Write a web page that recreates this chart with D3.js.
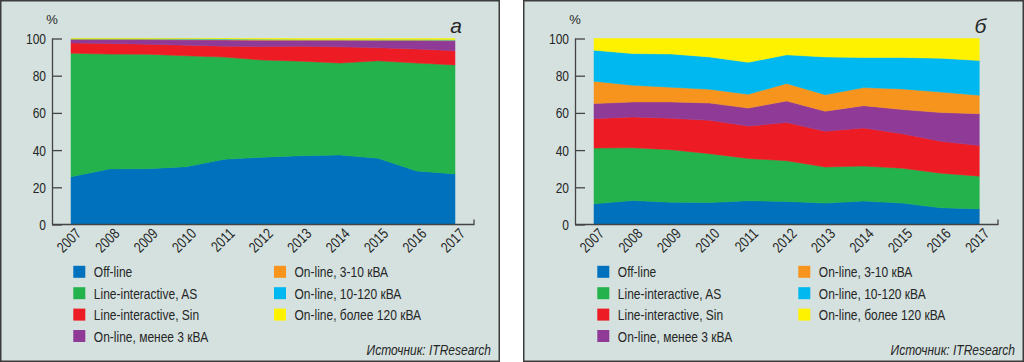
<!DOCTYPE html>
<html>
<head>
<meta charset="utf-8">
<script src="https://cdn.jsdelivr.net/npm/d3@7"></script>
<style>
  body { margin: 0; background: #fff; }
  svg text { font-family: "Liberation Sans", Arial, sans-serif; fill: #262626; }
</style>
</head>
<body>
<svg id="chart" width="1024" height="362"></svg>
<script>
// years on the x axis
const years = [2007, 2008, 2009, 2010, 2011, 2012, 2013, 2014, 2015, 2016, 2017];
const yTicks = [0, 20, 40, 60, 80, 100];

const seriesNames = [
  'Off-line', 'Line-interactive, AS', 'Line-interactive, Sin', 'On-line, менее 3 кВА',
  'On-line, 3-10 кВА', 'On-line, 10-120 кВА', 'On-line, более 120 кВА'
];
const seriesColors = ['#0071bc', '#23b24b', '#ed1c24', '#8e3a96', '#f7941e', '#00b8f0', '#fff200'];

// panel "а" shares, %
const aOffline = [25.7, 29.9, 30.0, 31.1, 35.1, 36.2, 37.0, 37.4, 35.6, 28.8, 27.2];
const aLineAS  = [66.4, 61.7, 61.5, 59.6, 54.9, 52.2, 50.8, 49.4, 52.4, 58.0, 58.6];
const aLineSin = [5.5, 5.7, 5.4, 5.7, 5.9, 7.3, 8.0, 8.7, 7.0, 7.5, 7.6];
const aOn3     = [1.8, 2.1, 2.5, 2.9, 3.3, 3.4, 3.2, 3.5, 3.9, 4.6, 5.4];
const aOn3_10  = [0.3, 0.3, 0.3, 0.3, 0.3, 0.3, 0.3, 0.3, 0.3, 0.3, 0.3];
const aOn10_120 = [0.2, 0.2, 0.2, 0.2, 0.2, 0.2, 0.2, 0.2, 0.2, 0.2, 0.2];
const aOn120   = [0.1, 0.1, 0.1, 0.2, 0.3, 0.4, 0.5, 0.5, 0.6, 0.6, 0.7];

// panel "б" shares, %
const bOffline = [11.1, 12.9, 12.0, 11.8, 12.8, 12.4, 11.5, 12.6, 11.5, 9.0, 8.4];
const bLineAS  = [30.0, 28.4, 28.2, 26.3, 22.7, 21.9, 19.4, 18.8, 18.8, 18.6, 17.6];
const bLineSin = [15.8, 16.5, 16.9, 17.9, 17.4, 20.5, 19.2, 20.5, 18.5, 17.1, 16.5];
const bOn3     = [8.1, 8.1, 8.8, 9.3, 9.7, 11.6, 10.8, 12.0, 13.0, 15.5, 17.1];
const bOn3_10  = [12.0, 9.0, 7.9, 7.4, 7.4, 9.4, 8.9, 9.7, 11.1, 11.0, 9.9];
const bOn10_120 = [16.7, 17.0, 17.9, 17.4, 17.2, 15.4, 20.3, 16.2, 16.9, 18.2, 18.7];
const bOn120   = [6.3, 8.1, 8.3, 9.9, 12.8, 8.8, 9.9, 10.2, 10.2, 10.6, 11.8];

// the original type is a condensed grotesque, squeeze Liberation Sans to match
const squeeze = 0.8;
const fontSize = 15;

const svg = d3.select('#chart');

function drawPanel(cfg) {
  const g = svg.append('g').attr('transform', `translate(${cfg.left},0)`);

  g.append('rect')
    .attr('x', 0.75).attr('y', 0.75)
    .attr('width', cfg.width - 1.5).attr('height', 362 - 1.5)
    .attr('fill', '#d4e1df')
    .attr('stroke', '#3c3c3c')
    .attr('stroke-width', 1.5);

  // table for the stack
  const rows = years.map((yr, i) => {
    const r = { year: yr };
    cfg.series.forEach((s, k) => { r[k] = s[i]; });
    return r;
  });
  const stack = d3.stack().keys(d3.range(cfg.series.length))(rows);

  const x = d3.scaleLinear().domain([2007, 2017]).range([cfg.x0, cfg.x1]);
  const y = d3.scaleLinear().domain([0, 100]).range([224.5, 38.5]);

  const area = d3.area()
    .x(d => x(d.data.year))
    .y0(d => y(d[0]))
    .y1(d => y(d[1]));

  g.selectAll('path.layer')
    .data(stack)
    .join('path')
    .attr('class', 'layer')
    .attr('d', area)
    .attr('fill', (d, i) => seriesColors[i])
    .attr('stroke', (d, i) => seriesColors[i])
    .attr('stroke-width', 0.5);

  // y axis
  const yAxis = g.append('g')
    .attr('transform', `translate(${cfg.axisX},0)`)
    .call(d3.axisRight(y).tickValues(yTicks).tickSize(10).tickFormat(''));
  yAxis.select('.domain').attr('d', `M0.5,${y(100)}V${y(0)}`);
  yAxis.selectAll('path, line').attr('stroke', '#444').attr('stroke-width', 1.3);

  g.selectAll('text.ytick')
    .data(yTicks)
    .join('text')
    .attr('class', 'ytick')
    .attr('transform', d => `translate(${cfg.axisX - 6},${y(d) + 5.5}) scale(${squeeze},1)`)
    .attr('text-anchor', 'end')
    .attr('font-size', fontSize)
    .text(d => d);

  // x axis baseline with end tick
  g.append('path')
    .attr('d', `M${cfg.axisX},${y(0)}H${cfg.axisEnd}V${y(0) - 5}`)
    .attr('fill', 'none')
    .attr('stroke', '#444')
    .attr('stroke-width', 1.3);

  g.selectAll('text.xtick')
    .data(years)
    .join('text')
    .attr('class', 'xtick')
    .attr('transform', d => `translate(${x(d) + 11},${y(0) + 10}) rotate(-45) scale(${squeeze},1)`)
    .attr('text-anchor', 'end')
    .attr('font-size', fontSize)
    .text(d => d);

  g.append('text')
    .attr('x', cfg.axisX).attr('y', 24)
    .attr('text-anchor', 'middle')
    .attr('font-size', 13)
    .text('%');

  g.append('text')
    .attr('x', cfg.x1 + 1).attr('y', 33)
    .attr('text-anchor', 'middle')
    .attr('font-size', 21)
    .attr('font-style', 'italic')
    .text(cfg.letter);

  // legend, two columns
  const legend = g.selectAll('g.item')
    .data(seriesNames)
    .join('g')
    .attr('class', 'item')
    .attr('transform', (d, i) => {
      const col = i < 4 ? 0 : 1;
      const row = i < 4 ? i : i - 4;
      return `translate(${col ? cfg.legX2 : cfg.legX1},${271.8 + row * 21.4})`;
    });
  legend.append('rect')
    .attr('x', 0).attr('y', -6)
    .attr('width', 12).attr('height', 12)
    .attr('fill', (d, i) => seriesColors[i]);
  legend.append('text')
    .attr('transform', `translate(20.5,5.5) scale(${squeeze},1)`)
    .attr('font-size', fontSize)
    .text(d => d);

  g.append('text')
    .attr('transform', `translate(${cfg.width - 9},354.5) scale(${squeeze},1)`)
    .attr('text-anchor', 'end')
    .attr('font-size', fontSize)
    .attr('font-style', 'italic')
    .text('Источник: ITResearch');
}

drawPanel({
  left: 0, width: 500, letter: 'а',
  x0: 71, x1: 455, axisX: 52, axisEnd: 474,
  legX1: 73.3, legX2: 274,
  series: [aOffline, aLineAS, aLineSin, aOn3, aOn3_10, aOn10_120, aOn120]
});

drawPanel({
  left: 523, width: 501, letter: 'б',
  x0: 594 - 523, x1: 979.3 - 523, axisX: 575 - 523, axisEnd: 998 - 523,
  legX1: 597.3 - 523, legX2: 798.3 - 523,
  series: [bOffline, bLineAS, bLineSin, bOn3, bOn3_10, bOn10_120, bOn120]
});
</script>
</body>
</html>
